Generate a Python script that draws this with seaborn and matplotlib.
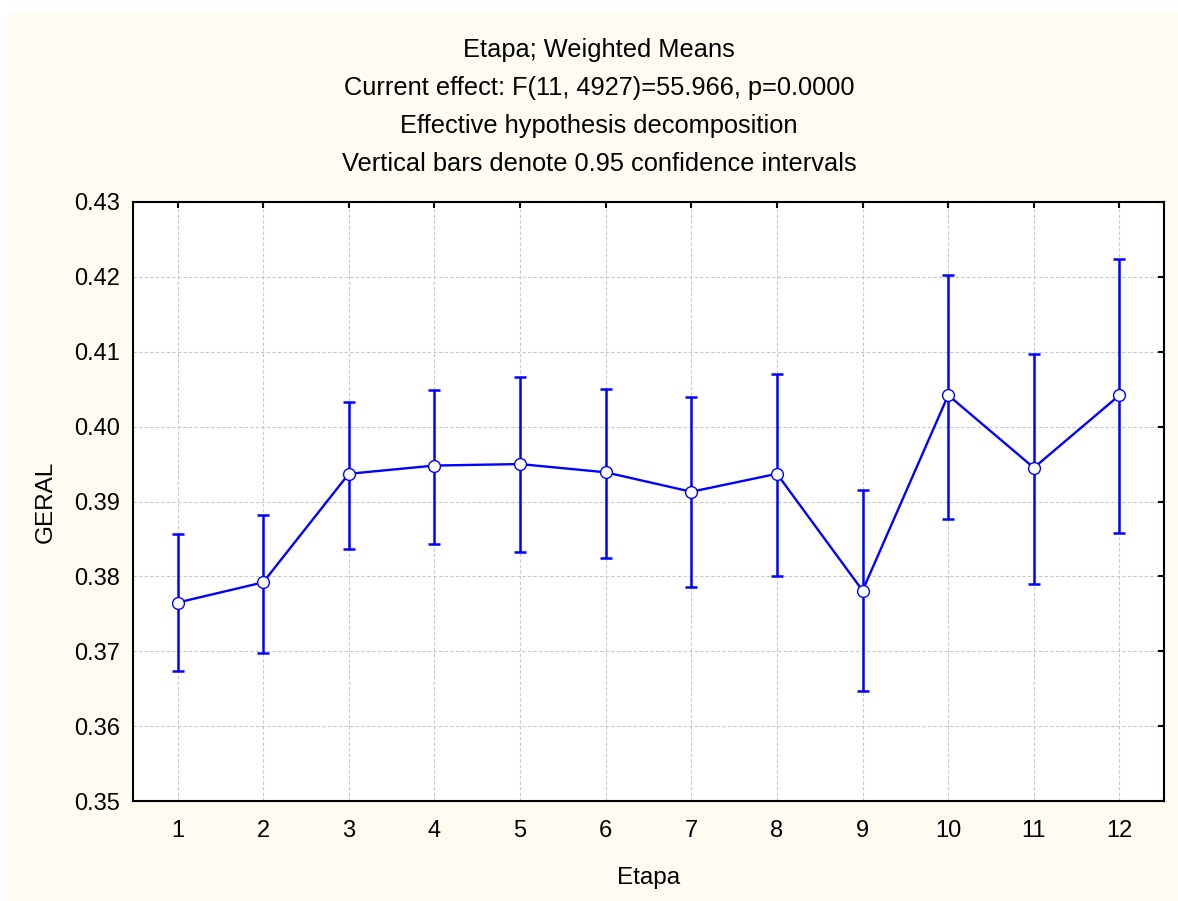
import numpy as np
import pandas as pd
import matplotlib
matplotlib.use("Agg")
import matplotlib.pyplot as plt
from matplotlib.patches import Rectangle
import seaborn as sns

# ---- data ----
etapa = [1, 2, 3, 4, 5, 6, 7, 8, 9, 10, 11, 12]
means = [0.3765, 0.3792, 0.3937, 0.3948, 0.3950, 0.3939, 0.3913, 0.3937, 0.3781, 0.4042, 0.3945, 0.4042]
ci_upper = [0.3857, 0.3882, 0.4033, 0.4049, 0.4066, 0.4050, 0.4039, 0.4070, 0.3915, 0.4203, 0.4097, 0.4224]
ci_lower = [0.3673, 0.3697, 0.3836, 0.3843, 0.3832, 0.3824, 0.3786, 0.3800, 0.3647, 0.3877, 0.3790, 0.3858]
y_ticks = [0.35, 0.36, 0.37, 0.38, 0.39, 0.40, 0.41, 0.42, 0.43]
title_lines = [
    "Etapa; Weighted Means",
    "Current effect: F(11, 4927)=55.966, p=0.0000",
    "Effective hypothesis decomposition",
    "Vertical bars denote 0.95 confidence intervals",
]

df = pd.DataFrame({"Etapa": etapa, "GERAL": means})
err_low = [m - l for m, l in zip(means, ci_lower)]
err_high = [u - m for m, u in zip(means, ci_upper)]

sns.set_theme(style="white")
plt.rcParams["font.family"] = ["Liberation Sans", "DejaVu Sans"]

W, H = 1178, 901
fig = plt.figure(figsize=(W / 100, H / 100), dpi=100)
fig.patch.set_facecolor("white")
fig.patches.append(Rectangle((8 / W, 0), 1 - 8 / W, 1 - 13 / H, transform=fig.transFigure,
                             facecolor="#FFFBF0", edgecolor="none", zorder=-10))

ax = fig.add_axes([133 / W, 1 - 801 / H, (1164 - 133) / W, (801 - 202) / H])
ax.set_facecolor("white")

blue = "#0000FF"
ax.errorbar(etapa, means, yerr=[err_low, err_high], fmt="none", ecolor=blue,
            elinewidth=1.8, capsize=4.3, capthick=1.8, zorder=2)
sns.lineplot(data=df, x="Etapa", y="GERAL", ax=ax, color=blue, linewidth=1.7,
             marker="o", markersize=8.5, markerfacecolor="white",
             markeredgecolor=blue, markeredgewidth=1.0, zorder=3)

ax.set_xlim(0.48, 12.52)
ax.set_ylim(0.35, 0.43)
ax.set_xticks(etapa)
ax.set_yticks(y_ticks)
ax.set_yticklabels([f"{v:.2f}" for v in y_ticks])

ax.grid(True, color="#c8c8c8", linestyle=(0, (3, 2)), linewidth=0.8)
ax.set_axisbelow(True)
for s in ax.spines.values():
    s.set_visible(True)
    s.set_color("black")
    s.set_linewidth(1.5)

ax.tick_params(axis="both", direction="in", length=4, width=1.5, color="black",
               top=True, right=True, labelsize=17, labelcolor="black")
ax.tick_params(axis="x", pad=14)
ax.tick_params(axis="y", pad=9.5)

ax.set_xlabel("Etapa", fontsize=17.5, color="black", labelpad=18)
ax.set_ylabel("GERAL", fontsize=17.5, color="black", labelpad=12)

cx = 599 / W
for i, line in enumerate(title_lines):
    fig.text(cx, 1 - (56.5 + 38.3 * i) / H, line, ha="center", va="baseline",
             fontsize=18.3, color="black")

fig.savefig("out.png", dpi=100)
